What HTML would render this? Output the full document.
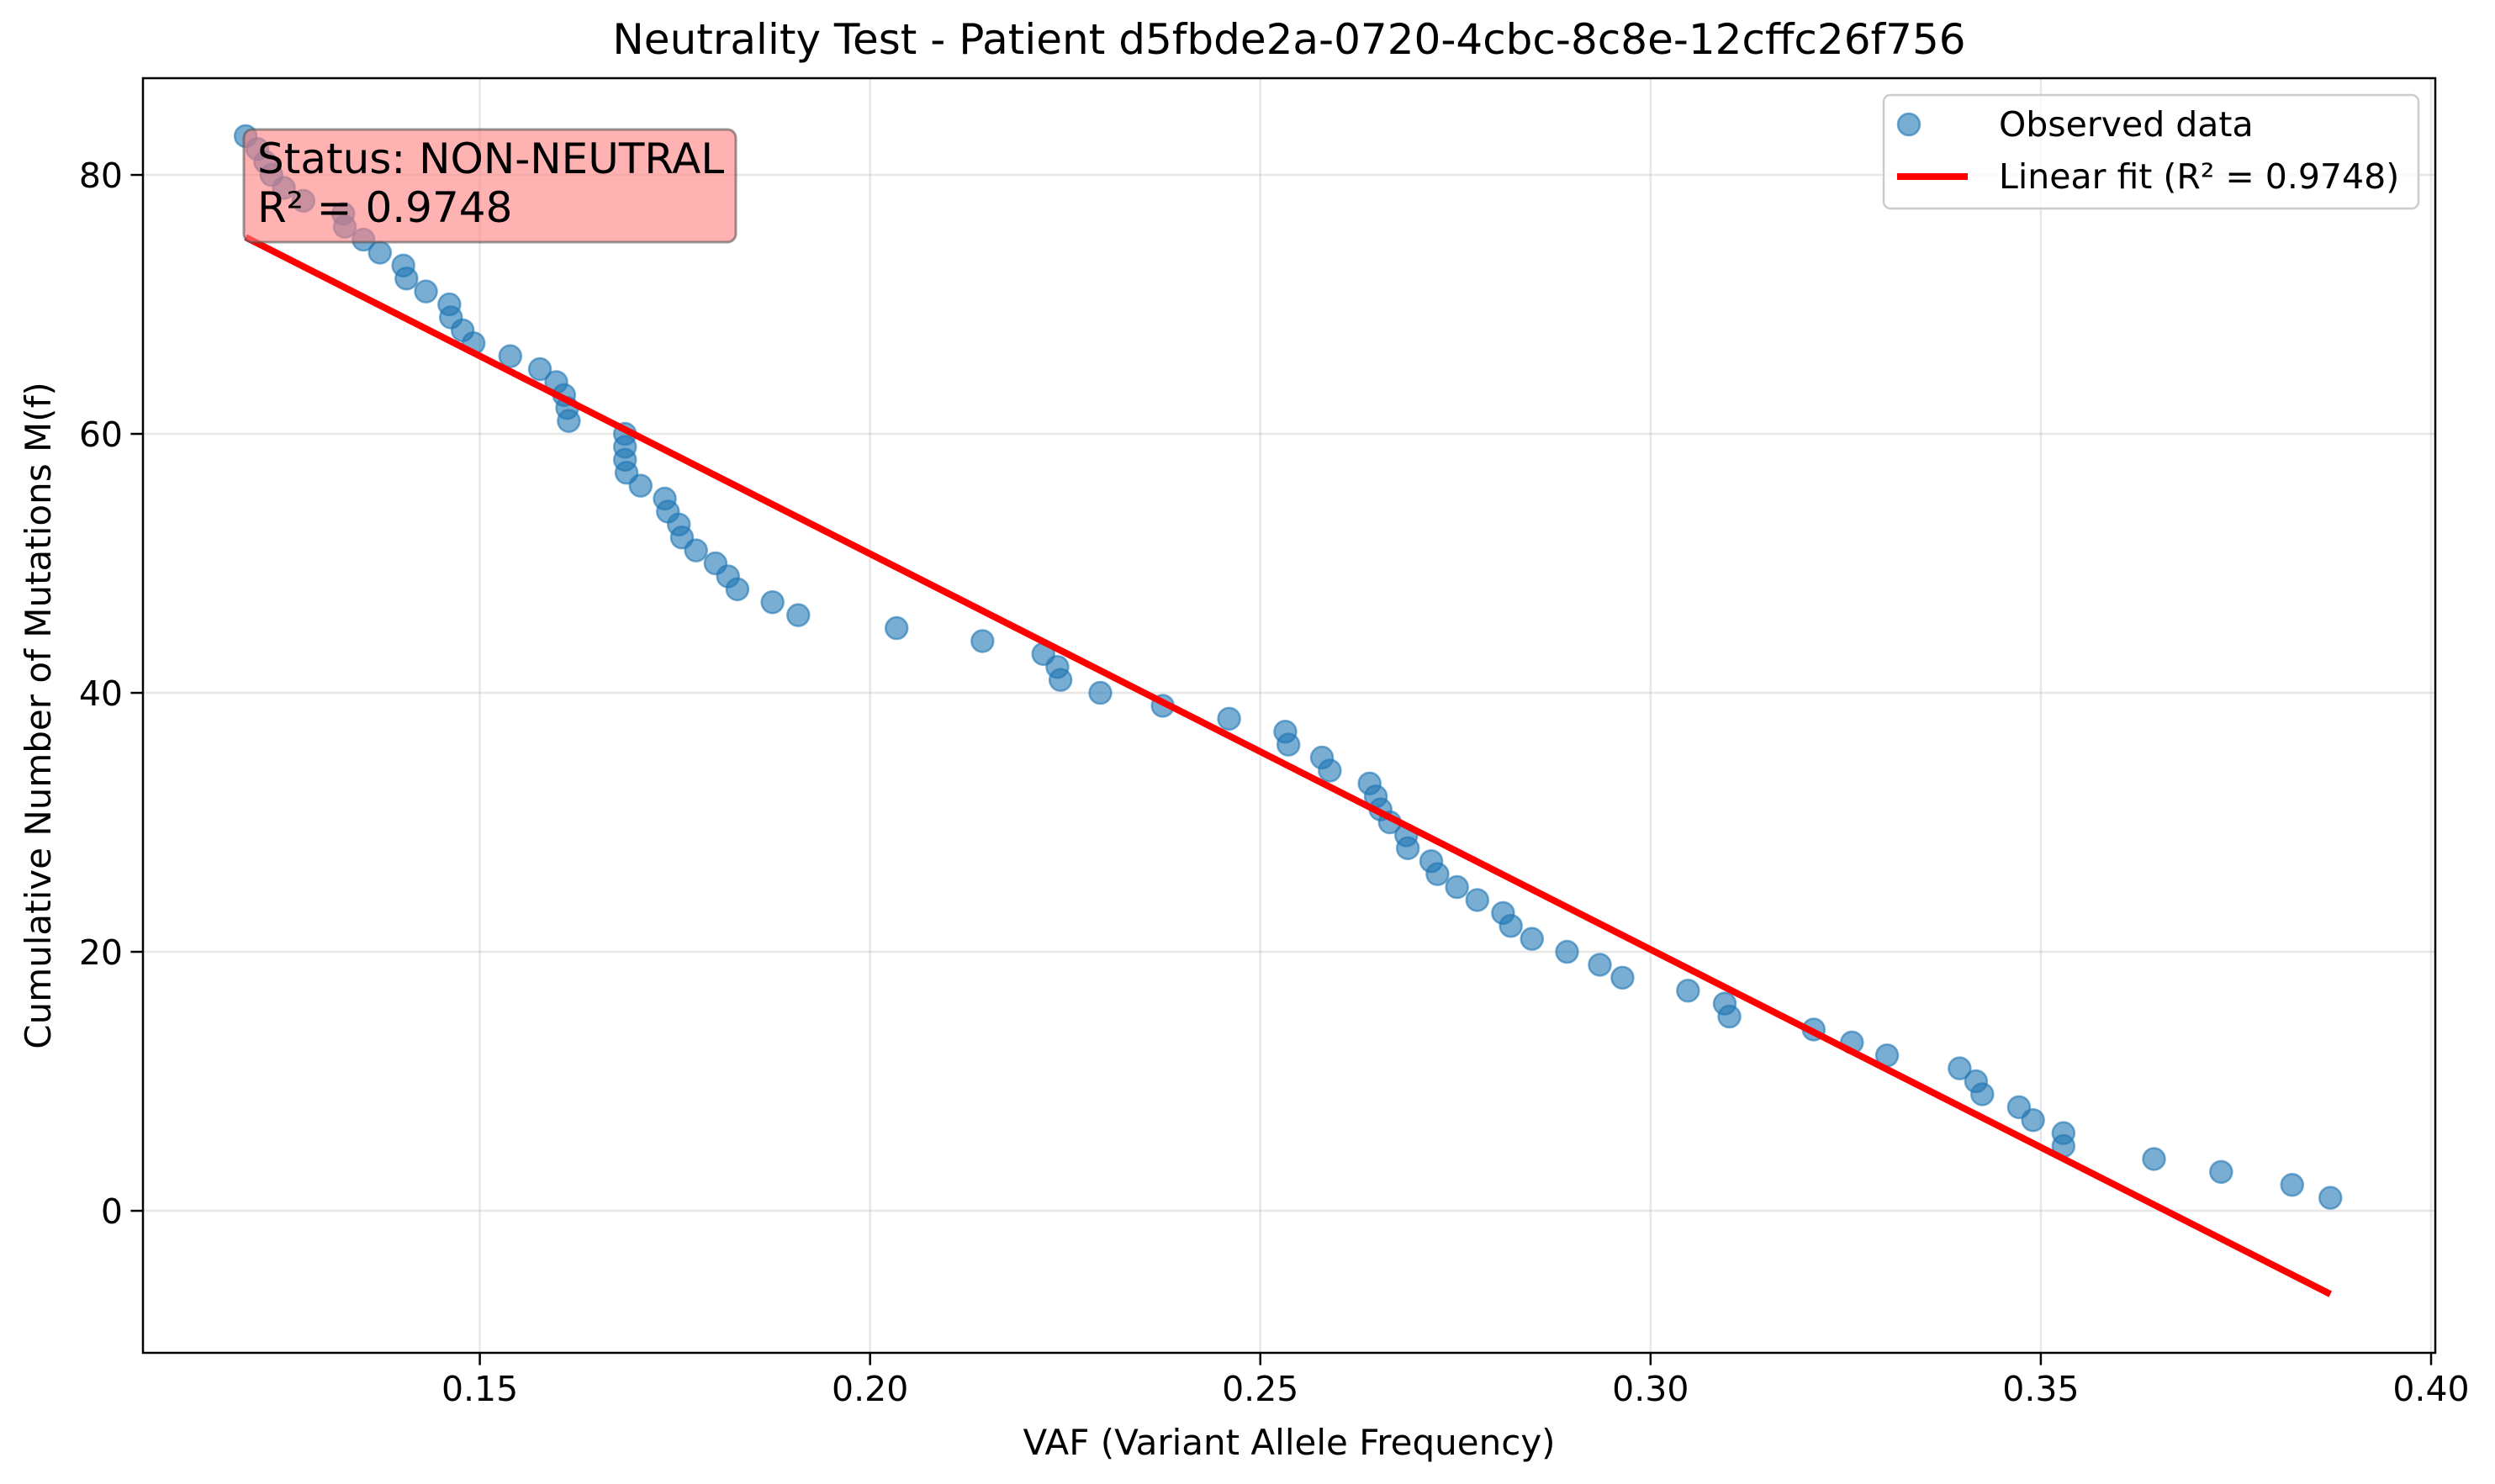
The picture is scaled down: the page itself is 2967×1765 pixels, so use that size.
<!DOCTYPE html>
<html><head><meta charset="utf-8"><style>
html,body{margin:0;padding:0;background:#fff}
svg{display:block;font-family:"DejaVu Sans","Liberation Sans",sans-serif}
</style></head><body>
<svg id="chart" width="2967" height="1765" viewBox="0 0 2967 1765">
<rect width="2967" height="1765" fill="#fff"/>
<g id="grid"></g>
<g id="marks"></g>
<rect x="170" y="93" width="2726" height="1516" fill="none" stroke="#000" stroke-width="2.5"/>
<g id="axes"></g>
<text x="1533" y="64" font-size="50" text-anchor="middle">Neutrality Test - Patient d5fbde2a-0720-4cbc-8c8e-12cffc26f756</text>
<text x="1533" y="1730" font-size="42" text-anchor="middle">VAF (Variant Allele Frequency)</text>
<text transform="translate(60,851) rotate(-90)" font-size="42" text-anchor="middle">Cumulative Number of Mutations M(f)</text>
<g>
<rect x="290" y="154" width="585" height="134" rx="10" fill="#ff7f7f" fill-opacity="0.6" stroke="#555" stroke-opacity="0.6" stroke-width="3"/>
<text x="306" y="206" font-size="50">Status: NON-NEUTRAL</text>
<text x="306" y="264" font-size="50">R² = 0.9748</text>
</g>
<g>
<rect x="2240" y="113" width="636" height="135" rx="8" fill="#fff" fill-opacity="0.8" stroke="#ccc" stroke-width="2.5"/>
<circle cx="2270" cy="148" r="13" fill="#1f77b4" fill-opacity="0.6" stroke="#1f77b4" stroke-opacity="0.6" stroke-width="2.5"/>
<text x="2377" y="162" font-size="41">Observed data</text>
<line x1="2256" y1="210" x2="2340" y2="210" stroke="#ff0000" stroke-width="8"/>
<text x="2377" y="224" font-size="41">Linear fit (R² = 0.9748)</text>
</g>
</svg>
<script>
const vafValues=[0.1200,0.1215,0.1225,0.1233,0.1249,0.1274,0.1325,0.1327,0.1351,0.1372,0.1402,0.1406,0.1431,0.1461,0.1463,0.1478,0.1492,0.1539,0.1577,0.1598,0.1608,0.1612,0.1614,0.1686,0.1686,0.1686,0.1688,0.1706,0.1737,0.1741,0.1755,0.1759,0.1777,0.1802,0.1818,0.1830,0.1875,0.1908,0.2034,0.2144,0.2222,0.2240,0.2244,0.2295,0.2375,0.2460,0.2532,0.2536,0.2579,0.2589,0.2640,0.2648,0.2654,0.2666,0.2687,0.2689,0.2719,0.2727,0.2752,0.2778,0.2811,0.2821,0.2848,0.2893,0.2935,0.2964,0.3048,0.3095,0.3101,0.3209,0.3258,0.3303,0.3396,0.3417,0.3425,0.3472,0.3490,0.3529,0.3529,0.3645,0.3731,0.3822,0.3871];
const cumulativeCounts=[83,82,81,80,79,78,77,76,75,74,73,72,71,70,69,68,67,66,65,64,63,62,61,60,59,58,57,56,55,54,53,52,51,50,49,48,47,46,45,44,43,42,41,40,39,38,37,36,35,34,33,32,31,30,29,28,27,26,25,24,23,22,21,20,19,18,17,16,15,14,13,12,11,10,9,8,7,6,5,4,3,2,1];
const xTicks=[0.15,0.20,0.25,0.30,0.35,0.40];
const xTickLabels=["0.15","0.20","0.25","0.30","0.35","0.40"];
const yTicks=[0,20,40,60,80];
const yTickLabels=["0","20","40","60","80"];

const NS="http://www.w3.org/2000/svg";
const X0=170,X1=2896,Y0=93,Y1=1609;
const xMin=0.10684,xMax=0.40054,yMin=-10.97,yMax=87.47;
function xs(v){return X0+(v-xMin)/(xMax-xMin)*(X1-X0);}
function ys(v){return Y1-(v-yMin)/(yMax-yMin)*(Y1-Y0);}
function mk(tag,attrs,parent){const e=document.createElementNS(NS,tag);for(const k in attrs)e.setAttribute(k,attrs[k]);parent.appendChild(e);return e;}
const grid=document.getElementById('grid'),axes=document.getElementById('axes'),marks=document.getElementById('marks');
xTicks.forEach((t,i)=>{
  const x=xs(t);
  const g=mk('line',{x1:x,x2:x,y1:Y0,y2:Y1,stroke:'#b0b0b0','stroke-opacity':0.3,'stroke-width':2.5},grid);
  
  
  const tk=mk('line',{x1:x,x2:x,y1:Y1,y2:Y1+14.6,stroke:'#000','stroke-width':2.5},axes);
  
  
  const tx=mk('text',{x:x,y:Y1+57,'font-size':41,'text-anchor':'middle'},axes);
  tx.textContent=xTickLabels[i];
  
  
});
yTicks.forEach((t,i)=>{
  const y=ys(t);
  const g=mk('line',{x1:X0,x2:X1,y1:y,y2:y,stroke:'#b0b0b0','stroke-opacity':0.3,'stroke-width':2.5},grid);
  
  
  const tk=mk('line',{x1:X0-14.6,x2:X0,y1:y,y2:y,stroke:'#000','stroke-width':2.5},axes);
  
  
  const tx=mk('text',{x:X0-24,y:y+15,'font-size':41,'text-anchor':'end'},axes);
  tx.textContent=yTickLabels[i];
  
  
});
vafValues.forEach((v,i)=>{
  const c=mk('circle',{cx:xs(v),cy:ys(cumulativeCounts[i]),r:13,fill:'#1f77b4','fill-opacity':0.6,stroke:'#1f77b4','stroke-opacity':0.6,'stroke-width':2.5},marks);
  
  
});
const n=vafValues.length;let sx=0,sy=0,sxx=0,sxy=0;
for(let i=0;i<n;i++){sx+=vafValues[i];sy+=cumulativeCounts[i];sxx+=vafValues[i]*vafValues[i];sxy+=vafValues[i]*cumulativeCounts[i];}
const slope=(n*sxy-sx*sy)/(n*sxx-sx*sx),icpt=(sy-slope*sx)/n;
const fx0=Math.min(...vafValues),fx1=Math.max(...vafValues);
const fl=mk('line',{x1:xs(fx0),y1:ys(icpt+slope*fx0),x2:xs(fx1),y2:ys(icpt+slope*fx1),stroke:'#ff0000','stroke-width':8},marks);


</script>
</body></html>
